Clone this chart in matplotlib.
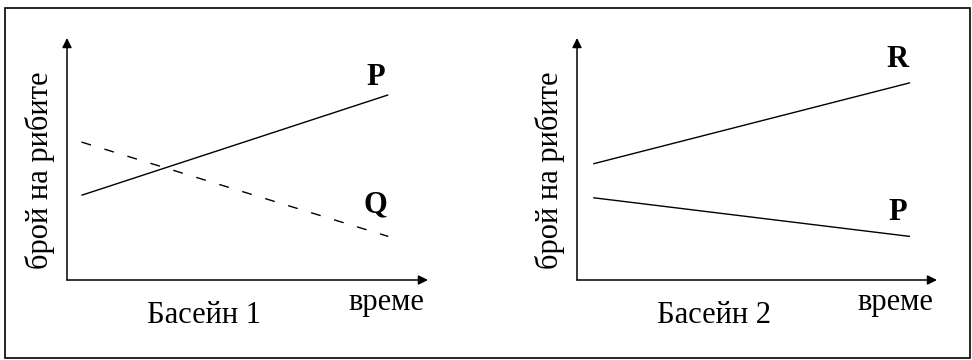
import matplotlib.pyplot as plt
from matplotlib.patches import Rectangle

### Данни

# басейн 1
time_1 = [0.4, 8.9]
fish_p1 = [3.5, 7.65]
fish_q1 = [5.7, 1.8]

# басейн 2
time_2 = [0.45, 9.25]
fish_r2 = [4.8, 8.15]
fish_p2 = [3.4, 1.8]

y_label = 'брой на рибите'
x_label = 'време'
pool_titles = ['Басейн 1', 'Басейн 2']

plt.rcParams['font.family'] = ['Liberation Serif', 'DejaVu Serif']
FONT_SIZE = 22

fig = plt.figure(figsize=(9.72, 3.6), dpi=100)

# рамка около цялата фигура
fig.patches.append(Rectangle((5 / 972, 2 / 360), 965 / 972, 350 / 360,
                             transform=fig.transFigure, fill=False,
                             edgecolor='black', linewidth=1.2))


def draw_pool(rect, title, x, series):
    ax = fig.add_axes(rect)
    ax.set_xlim(0, 10)
    ax.set_ylim(0, 10)
    for s in ax.spines.values():
        s.set_visible(False)
    ax.set_xticks([])
    ax.set_yticks([])
    ax.patch.set_alpha(0)

    # оси със стрелки
    arrow = dict(arrowstyle='-|>', color='black', lw=1.1,
                 mutation_scale=14, shrinkA=0, shrinkB=0)
    ax.annotate('', xy=(1, 0), xytext=(0, 0), xycoords='axes fraction',
                arrowprops=arrow)
    ax.annotate('', xy=(0, 1), xytext=(0, 0), xycoords='axes fraction',
                arrowprops=arrow)

    for values, style, name, label_y in series:
        ax.plot(x, values, color='black', lw=1.0, linestyle=style,
                solid_capstyle='butt')
        ax.text(x[1] - 0.35, label_y, name, fontsize=FONT_SIZE,
                fontweight='bold', ha='center', va='center')

    ax.text(0.884, -0.095, x_label, transform=ax.transAxes,
            fontsize=FONT_SIZE, ha='center', va='center')
    ax.text(0.38, -0.145, title, transform=ax.transAxes,
            fontsize=FONT_SIZE, ha='center', va='center')
    ax.text(-0.075, 0.455, y_label, transform=ax.transAxes,
            fontsize=FONT_SIZE, rotation=90, ha='center', va='center')
    return ax


draw_pool([67 / 972, 80 / 360, 361 / 972, 242 / 360], pool_titles[0], time_1,
          [(fish_p1, '-', 'P', 8.35),
           (fish_q1, (0, (7.2, 10.1)), 'Q', 3.1)])

draw_pool([577 / 972, 80 / 360, 360 / 972, 242 / 360], pool_titles[1], time_2,
          [(fish_r2, '-', 'R', 9.1),
           (fish_p2, '-', 'P', 2.8)])

fig.savefig('out.png', dpi=100)
